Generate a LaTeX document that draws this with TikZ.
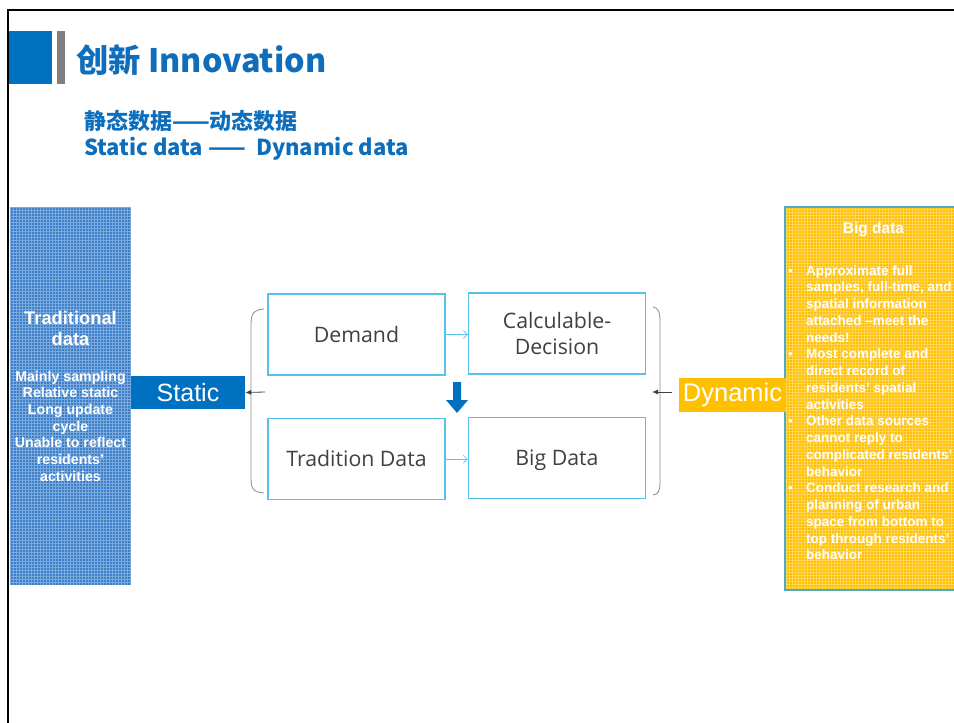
\documentclass[tikz,border=0pt]{standalone}
\usepackage{fontspec}
\setmainfont{Liberation Sans}
\newfontfamily\cjk{Noto Sans CJK SC}
\newfontfamily\seg{Open Sans}
\usetikzlibrary{arrows.meta}
\definecolor{myblue}{HTML}{0070C0}
\definecolor{titleblue}{HTML}{0E6EBC}
\definecolor{bargray}{HTML}{7F7F7F}
\definecolor{leftblue}{HTML}{3B7FCB}
\definecolor{gold}{HTML}{FFC000}
\definecolor{teal}{HTML}{4BACC6}
\definecolor{boxblue}{HTML}{55C2EA}
\definecolor{txtgray}{HTML}{404040}
\definecolor{brgray}{HTML}{8C8C8C}
\tikzset{
  mbox/.style={draw=boxblue, line width=1.5, minimum width=177, minimum height=81, inner sep=0,
    font=\seg\fontsize{21.3}{26}\selectfont, text=txtgray, align=center},
  panel/.style={inner sep=0},
  wtxt/.style={text=white, inner sep=0, font=\bfseries\fontsize{14.2}{16}\selectfont},
  rtxt/.style={text=white, inner sep=0, anchor=base west, font=\bfseries\fontsize{13.5}{16}\selectfont},
  flow/.style={boxblue, line width=0.7, -{Straight Barb[length=4pt,width=8pt]}},
  brk/.style={brgray, line width=0.8},
  side/.style={txtgray, line width=0.8, -{Latex[length=6pt,width=5pt]}}
}
\begin{document}
\begin{tikzpicture}[x=1pt,y=-1pt]
\useasboundingbox (0,0) rectangle (954,723);
\fill[white] (0,0) rectangle (954,723);
\draw[line width=2] (8,723) -- (8,10) -- (954,10);
% title bar
\fill[myblue] (9,31) rectangle (52,84);
\fill[bargray] (57,31) rectangle (65,84);
\node[anchor=base west, inner sep=0, text=titleblue, font=\cjk\bfseries\fontsize{32.3}{38}\selectfont] (title) at (76,72) {创新 Innovation};
\node[anchor=base west, inner sep=0, text=titleblue, font=\cjk\bfseries\fontsize{22}{26}\selectfont] (sub1) at (84,129) {静态数据——动态数据};
\node[anchor=base west, inner sep=0, text=titleblue, font=\cjk\bfseries\fontsize{22}{26}\selectfont] (sub2) at (84,155) {Static data ——\ \ Dynamic data};
% left panel
\node[panel, fill=leftblue, minimum width=121, minimum height=378,
  path picture={\draw[white, opacity=0.33, line width=0.6] (path picture bounding box.south west) grid[step=3pt] (path picture bounding box.north east);}] (trad) at (70.5,396) {};
\node[wtxt, font=\bfseries\fontsize{18.3}{21}\selectfont, align=center, anchor=base] (tradt) at (70.5,345) {Traditional\\data};
\foreach \t [count=\i] in {Mainly sampling, Relative static, Long update, cycle, Unable to reflect, residents', activities}
  \node[wtxt, anchor=base] (tl\i) at (70.5,381+16.7*\i-16.7) {\t};
% right panel
\node[panel, fill=gold, draw=teal, line width=1.5, minimum width=177, minimum height=383,
  path picture={\draw[white, opacity=0.35, line width=0.6] (path picture bounding box.south west) grid[step=3pt] (path picture bounding box.north east);}] (bigp) at (873.5,398.5) {};
\node[wtxt, font=\bfseries\fontsize{15.5}{18}\selectfont, anchor=base] (bigt) at (873.5,233) {Big data};
\foreach \t [count=\i] in {Approximate full, {samples, full-time, and}, spatial information, attached –meet the, needs!, Most complete and, direct record of, residents' spatial, activities, Other data sources, cannot reply to, complicated residents', behavior, Conduct research and, planning of urban, space from bottom to, top through residents', behavior}
  \node[rtxt] (rl\i) at (806,275+16.75*\i-16.75) {\t};
\foreach \k in {1,6,10,14}
  \node[rtxt, font=\bfseries\fontsize{13}{15}\selectfont] (bu\k) at (788,275+16.75*\k-16.75) {•};
% labels
\node[fill=myblue, text=white, minimum width=114, minimum height=33, inner sep=0, font=\fontsize{25}{30}\selectfont] (static) at (188,392.5) {Static};
\node[fill=gold, text=white, minimum width=107, minimum height=34, inner sep=0, font=\fontsize{25.5}{30}\selectfont] (dynamic) at (732.5,395) {Dynamic};
% middle boxes
\node[mbox] (demand) at (356.5,334.5) {Demand};
\node[mbox, font=\seg\fontsize{21.3}{26.5}\selectfont] (calc) at (557,333.5) {Calculable-\\Decision};
\node[mbox] (tdata) at (356.5,459) {Tradition Data};
\node[mbox, text depth=0pt] (bdata) at (557,458) {Big Data};
\draw[flow] (demand.east) -- (demand.east -| calc.west);
\draw[flow] (tdata.east) -- (tdata.east -| bdata.west);
% big down arrow
\fill[myblue] (453,382) -- (461,382) -- (461,400) -- (468,400) -- (457,413) -- (446,400) -- (453,400) -- cycle;
% brackets
\draw[brk] (264,309) .. controls (254,310) and (251,313) .. (251,325) -- (251,478) .. controls (251,490) and (254,492) .. (264,493);
\draw[brk] (653,307) .. controls (658,308) and (660,311) .. (660,322) -- (660,482) .. controls (660,492) and (658,494) .. (653,495);
\coordinate (lb) at (265,392);
\coordinate (rb) at (672,392);
\coordinate (rbend) at (652,392);
\draw[side] (lb) -- (static.east);
\draw[side] (rb) -- (rbend);
\end{tikzpicture}
\end{document}
